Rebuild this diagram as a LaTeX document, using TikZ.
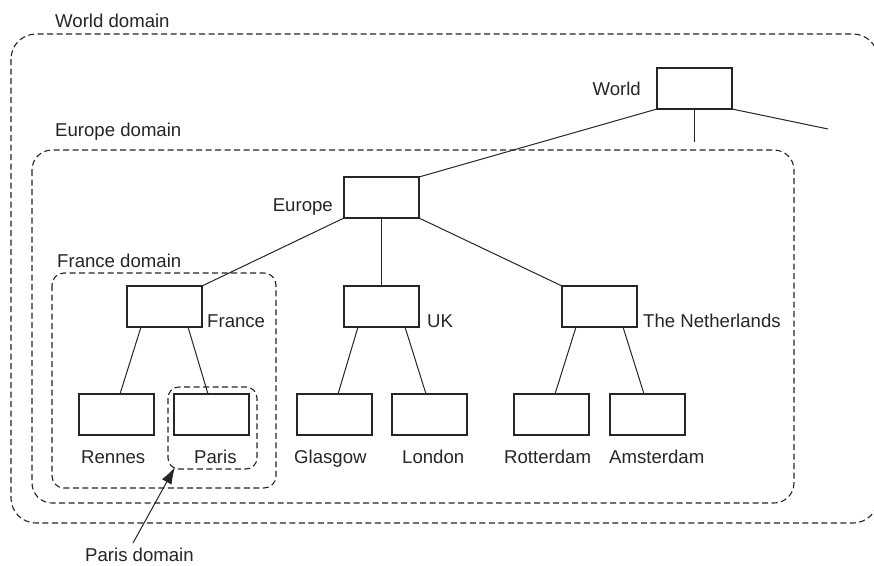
\documentclass[tikz,border=0pt]{standalone}
\usepackage{fontspec}
\setmainfont{Liberation Sans}
\usetikzlibrary{arrows.meta}
\definecolor{ink}{HTML}{262626}
\tikzset{
  box/.style={draw=ink, line width=1.2pt, minimum width=75pt, minimum height=41pt,
              inner sep=0pt, outer sep=0pt, anchor=north west},
  link/.style={draw=ink, line width=1pt},
  zone/.style={draw=ink, line width=1.1pt, dash pattern=on 6pt off 3.5pt},
  lbl/.style={text=ink, inner sep=0pt, anchor=base west,
              font=\fontsize{18.6}{22}\selectfont},
}
\begin{document}
\begin{tikzpicture}[x=1pt,y=-1pt]
  \useasboundingbox (0,0) rectangle (874,565);
  \clip (0,0) rectangle (874,565);
  \fill[white] (0,0) rectangle (874,565);

  % administrative domains
  \draw[zone, rounded corners=25pt] (11,34) rectangle (878,523);
  \draw[zone, rounded corners=20pt] (32,150) rectangle (794,503);
  \draw[zone, rounded corners=12pt] (52,273) rectangle (276,488);
  \draw[zone, rounded corners=11pt] (168,387) rectangle (257,469);

  \node[lbl] (wdl) at (55,27)    {World domain};
  \node[lbl] (edl) at (55,136.5) {Europe domain};
  \node[lbl] (fdl) at (57,267)   {France domain};
  \node[lbl] (pdl) at (85,561)   {Paris domain};

  % tree of name servers
  \node[box] (world) at (657,68)  {};
  \node[box] (eu)    at (344,177) {};
  \node[box] (fr)    at (127,286) {};
  \node[box] (uk)    at (344,286) {};
  \node[box] (nl)    at (562,286) {};
  \node[box] (ren)   at (79,394)  {};
  \node[box] (par)   at (174,394) {};
  \node[box] (gla)   at (297,394) {};
  \node[box] (lon)   at (392,394) {};
  \node[box] (rot)   at (514,394) {};
  \node[box] (ams)   at (610,394) {};

  % node names
  \node[lbl, anchor=base east] (worldl) at (641,95)  {World};
  \node[lbl, anchor=base east] (eul)    at (333,211) {Europe};
  \node[lbl] (frl)  at (207,327) {France};
  \node[lbl] (ukl)  at (427,327) {UK};
  \node[lbl] (nll)  at (643,327) {The Netherlands};
  \node[lbl] (renl) at (81,463)  {Rennes};
  \node[lbl] (parl) at (194,463) {Paris};
  \node[lbl] (glal) at (294,463) {Glasgow};
  \node[lbl] (lonl) at (402,463) {London};
  \node[lbl] (rotl) at (504,463) {Rotterdam};
  \node[lbl] (amsl) at (609,463) {Amsterdam};

  % edges
  \coordinate (wdown)  at (694.5,142);
  \coordinate (wright) at (828,129);
  \draw[link] (world.south west) -- (eu.north east);
  \draw[link] (world.south) -- (wdown);
  \draw[link] (world.south east) -- (wright);

  \draw[link] (eu.south west) -- (fr.north east);
  \draw[link] (eu.south) -- (uk.north);
  \draw[link] (eu.south east) -- (nl.north west);

  \foreach \p/\l/\r in {fr/ren/par, uk/gla/lon, nl/rot/ams}{
    \draw[link] ([xshift=14pt]\p.south west) -- ([xshift=3.5pt]\l.north);
    \draw[link] ([xshift=-14pt]\p.south east) -- ([xshift=-3.5pt]\r.north);
  }

  % pointer to the Paris domain
  \coordinate (pdfoot) at (133,543);
  \coordinate (pdcorner) at (175,467);
  \draw[link, -{Latex[length=17pt,width=11pt]}] (pdfoot) -- (pdcorner);
\end{tikzpicture}
\end{document}
